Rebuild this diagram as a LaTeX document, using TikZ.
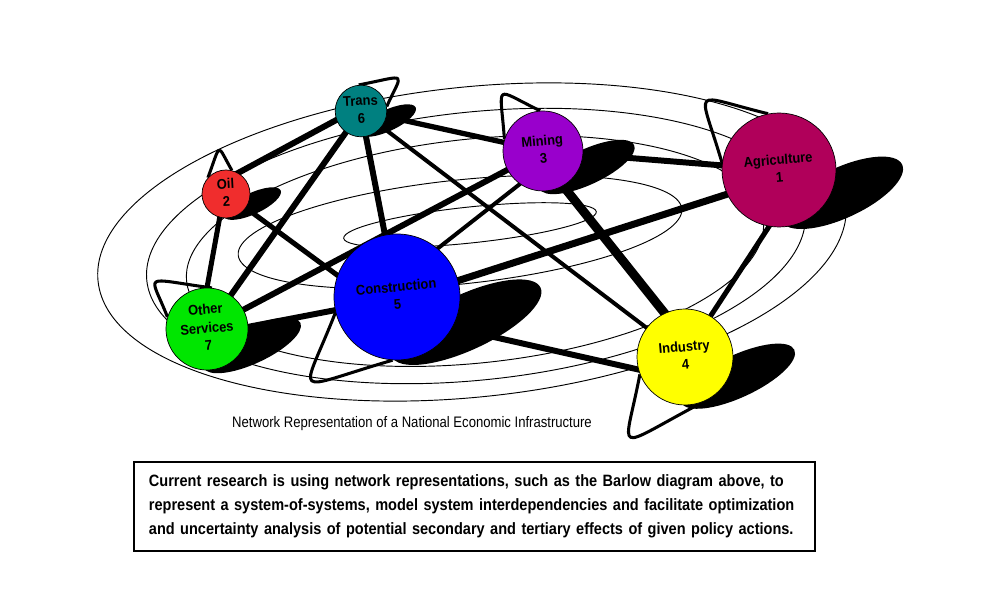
\documentclass[tikz,border=0pt]{standalone}
\usepackage{fontspec}
\setmainfont{Liberation Sans}
\newfontfamily\narrowfont[FakeStretch=0.86]{Liberation Sans}
\newfontfamily\labelfont[FakeStretch=0.92]{Liberation Sans}
\newfontfamily\boxfont[FakeStretch=0.886]{Liberation Sans}
\usepackage{graphicx}
\usetikzlibrary{calc, backgrounds}

\definecolor{AgriColor}{RGB}{176,0,90}
\definecolor{OilColor}{RGB}{240,45,45}
\definecolor{MiningColor}{RGB}{153,0,204}
\definecolor{IndustryColor}{RGB}{255,255,0}
\definecolor{ConColor}{RGB}{0,0,255}
\definecolor{TransColor}{RGB}{0,128,128}
\definecolor{ServColor}{RGB}{0,230,0}

\tikzstyle{orbit} = [black, line width=0.8pt]
\tikzstyle{selfloop} = [black, line width=2.6pt, line join=round]
\tikzset{sector/.style={circle, draw=black, line width=0.6pt, inner sep=0pt,
    minimum size=0.6mm*#1, font=\labelfont\fontsize{12}{15}\selectfont\bfseries},
  link/.style={black, line width=#1, shorten <=-3pt, shorten >=-3pt}}
\newcommand{\tilt}[2][5]{\rotatebox{#1}{\begin{tabular}{@{}c@{}}#2\end{tabular}}}

\begin{document}
\begin{tikzpicture}[x=0.3mm, y=-0.3mm]
\useasboundingbox (0,0) rectangle (994,606);

% sectors
\node[sector=57, fill=AgriColor] (agri) at (779,170) {\tilt{Agriculture\\1}};
\node[sector=24, fill=OilColor] (oil) at (226,194) {\tilt[3]{Oil\\2}};
\node[sector=40, fill=MiningColor] (mining) at (543,151) {\tilt{Mining\\3}};
\node[sector=48, fill=IndustryColor] (ind) at (685,357) {\tilt{Industry\\4}};
\node[sector=63, fill=ConColor] (con) at (397,297) {\tilt{Construction\\5}};
\node[sector=24, fill=TransColor] (trans) at (361,111) {\tilt[3]{Trans\\6}};
\node[sector=41, fill=ServColor] (serv) at (207,329) {\tilt[5]{Other\\[1pt]Services\\7}};

\begin{scope}[on background layer]
  % orbits
  \draw[orbit, rotate around={6:(472,242)}] (472,242) ellipse [x radius=376, y radius=155];
  \draw[orbit, rotate around={6:(476,246)}] (476,246) ellipse [x radius=331, y radius=134];
  \draw[orbit, rotate around={6:(475,251)}] (475,251) ellipse [x radius=290, y radius=112];
  \draw[orbit, rotate around={6:(460,232)}] (460,232) ellipse [x radius=223, y radius=52];
  \draw[orbit, rotate around={6:(470,225)}] (470,225) ellipse [x radius=127, y radius=18];

  % links
  \foreach \a/\b/\w in {oil.60/trans.200/5.1pt, serv/trans/5.1pt, trans/con/5.1pt,
      trans/mining/4.5pt, trans/ind/3.4pt, oil.-35/con.160/4.3pt, oil.-105/serv.90/4.3pt,
      mining/serv/5.1pt, mining.-125/con.50/3.4pt, mining.-60/ind.115/7.7pt,
      mining/agri/5.1pt, agri.-100/ind.58/4.3pt, con.15/agri.205/6pt,
      con.-29/ind.195/5.1pt, serv.3/con.192/5.1pt}
    \draw[link=\w] (\a) -- (\b);

  % shadows
  \foreach \n/\r/\s in {agri/57/0.9, oil/24/1, mining/40/1, ind/48/1, con/63/1, trans/24/1, serv/41/1}
    \fill[black, shift={($(\n)+(1.1*\r,0.4*\r)$)}, rotate=25] (0,0) ellipse [x radius=1.3*\r*\s, y radius=0.44*\r];

  % self loops
  \foreach \n/\a/\b/\cx/\cy in {trans/95/10/400/77, oil/138/76/219/148, mining/163/94/501/92,
      agri/173/101/703/98, ind/201/294/627/442, con/194/266/307/385, serv/163/83/153/280}
    \draw[selfloop] (\n.\a) .. controls ($(\n.\a)!1.22!(\cx,\cy)$) and ($(\n.\b)!1.22!(\cx,\cy)$) .. (\n.\b);
\end{scope}

\node[font=\narrowfont\fontsize{13}{15}\selectfont] (caption) at (412,424)
  {Network Representation of a National Economic Infrastructure};

\node[draw=black, line width=1.7pt, anchor=north west, inner xsep=12.75pt, inner ysep=0pt,
    text width=555.9pt, minimum height=75.6pt, align=left,
    font=\boxfont\bfseries\fontsize{14}{20.4}\selectfont] (note) at (133,461)
  {Current research is using network representations, such as the Barlow diagram above, to\\
   represent a system-of-systems, model system interdependencies and facilitate optimization\\
   and uncertainty analysis of potential secondary and tertiary effects of given policy actions.};
\end{tikzpicture}
\end{document}
